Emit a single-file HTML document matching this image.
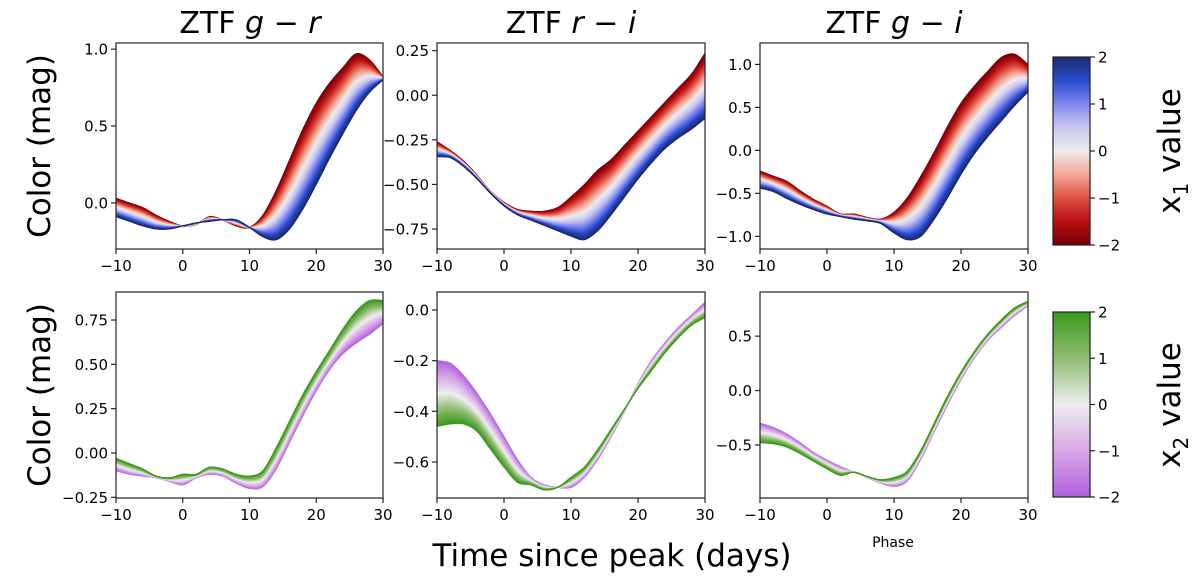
<!DOCTYPE html>
<html><head><meta charset="utf-8">
<style>
body{margin:0;background:#fff;}
svg text{font-family:"DejaVu Sans","Liberation Sans",sans-serif;fill:#000;}
</style></head>
<body>
<svg id="fig" width="1200" height="582" viewBox="0 0 1200 582" xmlns="http://www.w3.org/2000/svg" style="position:absolute;left:0;top:0">
<defs>
<linearGradient id="cb1" x1="0" y1="1" x2="0" y2="0">
<stop offset="0" stop-color="#700006"/><stop offset="0.125" stop-color="#b80f14"/><stop offset="0.25" stop-color="#e05040"/><stop offset="0.375" stop-color="#f5a796"/><stop offset="0.5" stop-color="#eeeaea"/><stop offset="0.625" stop-color="#c9c9ef"/><stop offset="0.75" stop-color="#7f88ee"/><stop offset="0.875" stop-color="#2a4bd0"/><stop offset="1" stop-color="#1b2a6b"/>
</linearGradient>
<linearGradient id="cb2" x1="0" y1="1" x2="0" y2="0">
<stop offset="0" stop-color="#b060e0"/><stop offset="0.25" stop-color="#d8a8e8"/><stop offset="0.5" stop-color="#eeeeee"/><stop offset="0.75" stop-color="#8fbb70"/><stop offset="1" stop-color="#3a9a1c"/>
</linearGradient>
</defs>
<g id="root"></g>
</svg>
<script>
const phases=[-10,-8,-6,-4,-2,0,2,4,6,8,10,12,14,16,18,20,22,24,26,28,30];
const grLow=[0.03,0.0,-0.03,-0.08,-0.12,-0.15,-0.14,-0.09,-0.11,-0.15,-0.16,-0.08,0.08,0.28,0.48,0.65,0.78,0.88,0.97,0.93,0.82];
const grHigh=[-0.09,-0.12,-0.15,-0.17,-0.17,-0.15,-0.13,-0.12,-0.11,-0.11,-0.16,-0.22,-0.24,-0.17,-0.04,0.12,0.29,0.45,0.60,0.72,0.80];
const riLow=[-0.26,-0.31,-0.37,-0.45,-0.54,-0.60,-0.64,-0.65,-0.65,-0.63,-0.57,-0.50,-0.42,-0.36,-0.28,-0.20,-0.12,-0.04,0.04,0.12,0.236];
const riHigh=[-0.345,-0.35,-0.40,-0.47,-0.55,-0.62,-0.67,-0.70,-0.73,-0.76,-0.79,-0.81,-0.76,-0.67,-0.57,-0.47,-0.38,-0.30,-0.24,-0.19,-0.13];
const giLow=[-0.24,-0.30,-0.36,-0.47,-0.57,-0.65,-0.74,-0.74,-0.78,-0.80,-0.72,-0.55,-0.30,-0.02,0.28,0.55,0.75,0.92,1.08,1.12,1.0];
const giHigh=[-0.44,-0.48,-0.56,-0.63,-0.69,-0.74,-0.77,-0.80,-0.82,-0.85,-0.96,-1.04,-1.00,-0.80,-0.55,-0.28,-0.04,0.16,0.34,0.52,0.68];
const gr2Low=[-0.10,-0.12,-0.13,-0.14,-0.16,-0.18,-0.14,-0.12,-0.13,-0.17,-0.20,-0.19,-0.09,0.06,0.21,0.35,0.47,0.56,0.62,0.67,0.73];
const gr2High=[-0.03,-0.06,-0.09,-0.13,-0.14,-0.12,-0.12,-0.08,-0.09,-0.12,-0.13,-0.10,0.03,0.18,0.33,0.46,0.58,0.70,0.80,0.86,0.86];
const ri2Low=[-0.20,-0.21,-0.26,-0.33,-0.41,-0.50,-0.59,-0.66,-0.69,-0.70,-0.70,-0.66,-0.59,-0.50,-0.40,-0.29,-0.20,-0.13,-0.07,-0.02,0.03];
const ri2High=[-0.46,-0.45,-0.45,-0.48,-0.55,-0.62,-0.68,-0.69,-0.71,-0.70,-0.66,-0.62,-0.55,-0.47,-0.39,-0.31,-0.24,-0.17,-0.11,-0.06,-0.03];
const gi2Low=[-0.30,-0.34,-0.40,-0.48,-0.57,-0.64,-0.70,-0.75,-0.80,-0.85,-0.88,-0.83,-0.63,-0.38,-0.13,0.10,0.30,0.46,0.58,0.69,0.78];
const gi2High=[-0.48,-0.49,-0.52,-0.58,-0.65,-0.72,-0.78,-0.75,-0.79,-0.82,-0.80,-0.74,-0.55,-0.30,-0.05,0.17,0.36,0.52,0.65,0.76,0.82];
const xTicks=[-10,0,10,20,30];
const yTicks1=[0.0,0.5,1.0],yTicks2=[0.25,0.0,-0.25,-0.5,-0.75],yTicks3=[1.0,0.5,0.0,-0.5,-1.0];
const yTicks4=[0.75,0.5,0.25,0.0,-0.25],yTicks5=[0.0,-0.2,-0.4,-0.6],yTicks6=[0.5,0.0,-0.5];
const cbTicks=[2,1,0,-1,-2];

const NS="http://www.w3.org/2000/svg";
const root=document.getElementById('root');
function mk(tag,attrs,parent){const e=document.createElementNS(NS,tag);for(const k in attrs)e.setAttribute(k,attrs[k]);(parent||root).appendChild(e);return e;}
function hex(h){return [parseInt(h.substr(1,2),16),parseInt(h.substr(3,2),16),parseInt(h.substr(5,2),16)];}
function cmap(stops,t){
 for(let i=0;i<stops.length-1;i++){if(t<=stops[i+1][0]){const f=(t-stops[i][0])/(stops[i+1][0]-stops[i][0]);const a=hex(stops[i][1]),b=hex(stops[i+1][1]);return 'rgb('+a.map((v,j)=>Math.round(v+(b[j]-v)*f)).join(',')+')';}}
 return stops[stops.length-1][1];}
const rb=[[0,'#700006'],[0.125,'#b80f14'],[0.25,'#e05040'],[0.375,'#f5a796'],[0.5,'#eeeaea'],[0.625,'#c9c9ef'],[0.75,'#7f88ee'],[0.875,'#2a4bd0'],[1,'#1b2a6b']];
const pg=[[0,'#b060e0'],[0.25,'#d8a8e8'],[0.5,'#eeeeee'],[0.75,'#8fbb70'],[1,'#3a9a1c']];
function fmt(v,d){const s=Math.abs(v).toFixed(d);return (v<0?'\u2212':'')+s;}

const panels=[
 {name:'gr-x1',x0:116,x1:383,y0:43,y1:249,ymin:-0.30,ymax:1.04,lo:grLow,hi:grHigh,cm:rb,ticks:yTicks1,d:1},
 {name:'ri-x1',x0:437,x1:705,y0:43,y1:249,ymin:-0.862,ymax:0.293,lo:riLow,hi:riHigh,cm:rb,ticks:yTicks2,d:2},
 {name:'gi-x1',x0:760,x1:1028,y0:43,y1:249,ymin:-1.147,ymax:1.249,lo:giLow,hi:giHigh,cm:rb,ticks:yTicks3,d:1},
 {name:'gr-x2',x0:116,x1:383,y0:292,y1:498,ymin:-0.254,ymax:0.908,lo:gr2Low,hi:gr2High,cm:pg,ticks:yTicks4,d:2},
 {name:'ri-x2',x0:437,x1:705,y0:292,y1:498,ymin:-0.742,ymax:0.071,lo:ri2Low,hi:ri2High,cm:pg,ticks:yTicks5,d:1},
 {name:'gi-x2',x0:760,x1:1028,y0:292,y1:498,ymin:-0.988,ymax:0.906,lo:gi2Low,hi:gi2High,cm:pg,ticks:yTicks6,d:1},
];
const N=100;
panels.forEach((p,pi)=>{
 const g=mk('g',{});
 
 
 const xs=v=>p.x0+(v+10)/40*(p.x1-p.x0);
 const ys=v=>p.y1-(v-p.ymin)/(p.ymax-p.ymin)*(p.y1-p.y0);
 const cid='clip'+pi;
 const cp=mk('clipPath',{id:cid},g);mk('rect',{x:p.x0,y:p.y0,width:p.x1-p.x0,height:p.y1-p.y0},cp);
 const lg=mk('g',{'clip-path':'url(#'+cid+')'},g);
 for(let k=0;k<=N;k++){
  const t=k/N;
  const pts=phases.map((ph,i)=>[xs(ph),ys(p.lo[i]+(p.hi[i]-p.lo[i])*t)]);
  let d='M'+pts[0][0].toFixed(2)+','+pts[0][1].toFixed(2);
  for(let i=0;i<pts.length-1;i++){
   const a=pts[Math.max(i-1,0)],b=pts[i],c=pts[i+1],e=pts[Math.min(i+2,pts.length-1)];
   const c1=[b[0]+(c[0]-a[0])/6,b[1]+(c[1]-a[1])/6],c2=[c[0]-(e[0]-b[0])/6,c[1]-(e[1]-b[1])/6];
   d+='C'+c1[0].toFixed(2)+','+c1[1].toFixed(2)+' '+c2[0].toFixed(2)+','+c2[1].toFixed(2)+' '+c[0].toFixed(2)+','+c[1].toFixed(2);
  }
  const path=mk('path',{d:d,fill:'none',stroke:cmap(p.cm,t),'stroke-width':1.0},lg);
  
  
 }
 const fr=mk('rect',{x:p.x0,y:p.y0,width:p.x1-p.x0,height:p.y1-p.y0,fill:'none',stroke:'#222','stroke-width':1.2},g);
 
 
 xTicks.forEach(v=>{
  const x=xs(v);
  mk('line',{x1:x,x2:x,y1:p.y1,y2:p.y1+5,stroke:'#222','stroke-width':1.2},g);
  const tx=mk('text',{x:x,y:p.y1+22,'font-size':15,'text-anchor':'middle'},g);tx.textContent=fmt(v,0);
  
  
 });
 p.ticks.forEach(v=>{
  const y=ys(v);
  mk('line',{x1:p.x0-5,x2:p.x0,y1:y,y2:y,stroke:'#222','stroke-width':1.2},g);
  const tx=mk('text',{x:p.x0-8,y:y+5.5,'font-size':15,'text-anchor':'end'},g);tx.textContent=fmt(v,p.d);
  
  
 });
});
[[57,245,'cb1','x1'],[312,497,'cb2','x2']].forEach((c,i)=>{
 const g=mk('g',{});
 
 
 mk('rect',{x:1053,y:c[0],width:37,height:c[1]-c[0],fill:'url(#'+c[2]+')',stroke:'#222','stroke-width':1.2},g);
 cbTicks.forEach(v=>{
  const y=c[0]+(2-v)/4*(c[1]-c[0]);
  mk('line',{x1:1090,x2:1095,y1:y,y2:y,stroke:'#222','stroke-width':1.2},g);
  const tx=mk('text',{x:1098,y:y+5.5,'font-size':15},g);tx.textContent=fmt(v,0);
  
  
 });
});
</script>
<svg width="1200" height="582" style="position:absolute;left:0;top:0">
<text x="250" y="33" font-size="30" text-anchor="middle">ZTF <tspan font-style="italic">g</tspan> − <tspan font-style="italic">r</tspan></text>
<text x="571" y="33" font-size="30" text-anchor="middle">ZTF <tspan font-style="italic">r</tspan> − <tspan font-style="italic">i</tspan></text>
<text x="894" y="33" font-size="30" text-anchor="middle">ZTF <tspan font-style="italic">g</tspan> − <tspan font-style="italic">i</tspan></text>
<text transform="translate(50,146) rotate(-90)" font-size="31" text-anchor="middle">Color (mag)</text>
<text transform="translate(50,395) rotate(-90)" font-size="31" text-anchor="middle">Color (mag)</text>
<text x="612" y="566" font-size="31" text-anchor="middle">Time since peak (days)</text>
<text x="893" y="547" font-size="14" text-anchor="middle">Phase</text>
<text transform="translate(1180,151) rotate(-90)" font-size="31" text-anchor="middle">x<tspan font-size="20" dy="8">1</tspan><tspan dy="-8"> value</tspan></text>
<text transform="translate(1180,405) rotate(-90)" font-size="31" text-anchor="middle">x<tspan font-size="20" dy="8">2</tspan><tspan dy="-8"> value</tspan></text>
</svg>
</body></html>
